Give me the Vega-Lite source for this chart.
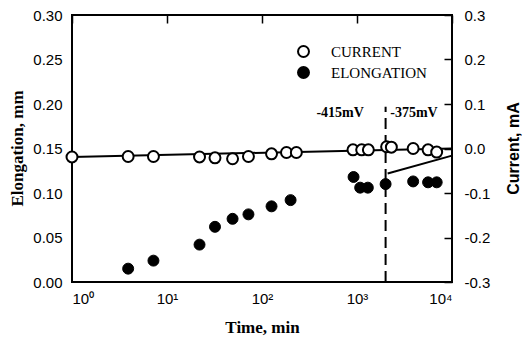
{
  "$schema": "https://vega.github.io/schema/vega-lite/v6.json",
  "width": 380,
  "height": 267,
  "autosize": {"type": "none"},
  "padding": {"left": 72, "top": 15, "right": 70, "bottom": 60},
  "background": "white",
  "config": {
    "view": {"stroke": "black", "strokeWidth": 2},
    "axis": {"domain": false, "ticks": false, "tickSize": 0, "grid": true, "gridColor": "black", "gridOpacity": 1, "gridWidth": 1.5, "labelColor": "black", "titleColor": "black", "labelFont": "Liberation Sans", "labelFontSize": 15, "labelFontWeight": "normal"}
  },
  "datasets": {
    "current": [
      {"t": 1, "i": -0.019},
      {"t": 3.9, "i": -0.018},
      {"t": 7.2, "i": -0.018},
      {"t": 22, "i": -0.019},
      {"t": 32, "i": -0.021},
      {"t": 49, "i": -0.023},
      {"t": 72, "i": -0.018},
      {"t": 126, "i": -0.012},
      {"t": 181, "i": -0.009},
      {"t": 230, "i": -0.009},
      {"t": 907, "i": -0.003},
      {"t": 1120, "i": -0.003},
      {"t": 1317, "i": -0.003},
      {"t": 2050, "i": 0.004},
      {"t": 2300, "i": 0.003},
      {"t": 3900, "i": 0.0},
      {"t": 5600, "i": -0.003},
      {"t": 6900, "i": -0.008}
    ],
    "elong": [
      {"t": 3.9, "e": 0.015},
      {"t": 7.2, "e": 0.024},
      {"t": 22, "e": 0.042},
      {"t": 32, "e": 0.062},
      {"t": 49, "e": 0.071},
      {"t": 72, "e": 0.076},
      {"t": 126, "e": 0.085},
      {"t": 200, "e": 0.092},
      {"t": 920, "e": 0.118},
      {"t": 1080, "e": 0.106},
      {"t": 1300, "e": 0.106},
      {"t": 2000, "e": 0.110},
      {"t": 3900, "e": 0.113},
      {"t": 5600, "e": 0.112},
      {"t": 6900, "e": 0.112}
    ],
    "fit": [
      {"t": 1, "i": -0.019},
      {"t": 10000, "i": 0.0}
    ],
    "arrow": [
      {"t": 10000, "i": -0.016},
      {"t": 2100, "i": -0.056}
    ],
    "vline": [
      {"t": 2000, "e0": 0, "e1": 0.197}
    ],
    "labels": [
      {"t": 665, "e": 0.19, "label": "-415mV"},
      {"t": 3980, "e": 0.19, "label": "-375mV"}
    ]
  },
  "layer": [
    {
      "data": {"name": "fit"},
      "mark": {"type": "line", "color": "black", "strokeWidth": 2},
      "encoding": {
        "x": {"field": "t", "type": "quantitative", "scale": {"type": "log", "domain": [1, 10000]},
          "axis": {"orient": "bottom", "values": [1, 10, 100, 1000, 10000], "gridDash": [8, 1000], "labelPadding": 9,
            "labelExpr": "'10' + ['\u2070','\u00b9','\u00b2','\u00b3','\u2074'][round(log(datum.value)/LN10)]",
            "title": "Time, min", "titleFont": "Liberation Serif", "titleFontSize": 17, "titleFontWeight": "bold", "titleX": 190, "titleY": 45, "titleBaseline": "middle"}},
        "y": {"field": "i", "type": "quantitative", "scale": {"domain": [-0.3, 0.3]},
          "axis": {"orient": "right", "values": [-0.3, -0.2, -0.1, 0, 0.1, 0.2, 0.3], "gridDash": [8, 1000], "labelPadding": 12,
            "labelExpr": "replace(format(datum.value, '.1f'), '\u2212', '-')",
            "title": "Current, mA", "titleFont": "Liberation Sans", "titleFontSize": 16, "titleFontWeight": "bold", "titleAngle": 270, "titleX": 61, "titleY": 133, "titleBaseline": "middle"}}
      }
    },
    {
      "data": {"name": "arrow"},
      "mark": {"type": "line", "color": "black", "strokeWidth": 2},
      "encoding": {
        "x": {"field": "t", "type": "quantitative", "scale": {"type": "log", "domain": [1, 10000]},
          "axis": {"orient": "top", "values": [1, 10, 100, 1000, 10000], "gridDash": [8, 1000], "labels": false, "title": null}},
        "y": {"field": "i", "type": "quantitative", "scale": {"domain": [-0.3, 0.3]}, "axis": null}
      }
    },
    {
      "data": {"name": "vline"},
      "mark": {"type": "rule", "color": "black", "strokeWidth": 2, "strokeDash": [11, 6]},
      "encoding": {
        "x": {"field": "t", "type": "quantitative", "scale": {"type": "log", "domain": [1, 10000]}, "axis": null},
        "y": {"field": "e0", "type": "quantitative", "scale": {"domain": [0, 0.3]},
          "axis": {"orient": "left", "values": [0, 0.01, 0.02, 0.03, 0.04, 0.05, 0.06, 0.07, 0.08, 0.09, 0.1, 0.11, 0.12, 0.13, 0.14, 0.15, 0.16, 0.17, 0.18, 0.19, 0.2, 0.21, 0.22, 0.23, 0.24, 0.25, 0.26, 0.27, 0.28, 0.29, 0.3], "gridDash": [4, 1000], "labels": false, "title": null}},
        "y2": {"field": "e1"}
      }
    },
    {
      "data": {"name": "elong"},
      "mark": {"type": "point", "shape": "circle", "filled": true, "size": 120, "stroke": "black", "strokeWidth": 1, "opacity": 1},
      "encoding": {
        "x": {"field": "t", "type": "quantitative", "scale": {"type": "log", "domain": [1, 10000]},
          "axis": {"orient": "top", "values": [2,3,4,5,6,7,8,9,20,30,40,50,60,70,80,90,200,300,400,500,600,700,800,900,2000,3000,4000,5000,6000,7000,8000,9000], "gridDash": [5, 1000], "labels": false, "title": null}},
        "y": {"field": "e", "type": "quantitative", "scale": {"domain": [0, 0.3]},
          "axis": {"orient": "left", "values": [0, 0.05, 0.1, 0.15, 0.2, 0.25, 0.3], "gridDash": [8, 1000], "labelPadding": 10, "format": ".2f",
            "title": "Elongation, mm", "titleFont": "Liberation Serif", "titleFontSize": 17, "titleFontWeight": "bold", "titleX": -55, "titleY": 133, "titleBaseline": "middle"}},
        "fill": {"datum": "ELONGATION", "type": "nominal",
          "scale": {"domain": ["CURRENT", "ELONGATION"], "range": ["white", "black"]},
          "legend": {"orient": "none", "legendX": 224, "legendY": 29, "title": null, "padding": 0,
            "symbolType": "circle", "symbolSize": 120, "symbolStrokeColor": "black", "symbolStrokeWidth": 2,
            "labelFont": "Liberation Serif", "labelFontSize": 15, "labelColor": "black", "labelOffset": 20, "rowPadding": 2}}
      }
    },
    {
      "data": {"name": "current"},
      "mark": {"type": "point", "shape": "circle", "filled": true, "size": 120, "stroke": "black", "strokeWidth": 2, "opacity": 1},
      "encoding": {
        "x": {"field": "t", "type": "quantitative", "scale": {"type": "log", "domain": [1, 10000]},
          "axis": {"orient": "bottom", "values": [2,3,4,5,6,7,8,9,20,30,40,50,60,70,80,90,200,300,400,500,600,700,800,900,2000,3000,4000,5000,6000,7000,8000,9000], "gridDash": [5, 1000], "labels": false, "title": null}},
        "y": {"field": "i", "type": "quantitative", "scale": {"domain": [-0.3, 0.3]},
          "axis": {"orient": "right", "values": [-0.3, -0.28, -0.26, -0.24, -0.22, -0.2, -0.18, -0.16, -0.14, -0.12, -0.1, -0.08, -0.06, -0.04, -0.02, 0, 0.02, 0.04, 0.06, 0.08, 0.1, 0.12, 0.14, 0.16, 0.18, 0.2, 0.22, 0.24, 0.26, 0.28, 0.3], "gridDash": [4, 1000], "labels": false, "title": null}},
        "fill": {"datum": "CURRENT", "type": "nominal"}
      }
    },
    {
      "data": {"name": "labels"},
      "mark": {"type": "text", "font": "Liberation Serif", "fontSize": 14, "fontWeight": "bold", "color": "black", "baseline": "middle", "align": "center"},
      "encoding": {
        "x": {"field": "t", "type": "quantitative", "scale": {"type": "log", "domain": [1, 10000]}, "axis": null},
        "y": {"field": "e", "type": "quantitative", "scale": {"domain": [0, 0.3]}, "axis": null},
        "text": {"field": "label"}
      }
    }
  ],
  "resolve": {"scale": {"x": "independent", "y": "independent", "fill": "shared"}, "axis": {"x": "independent", "y": "independent"}}
}
